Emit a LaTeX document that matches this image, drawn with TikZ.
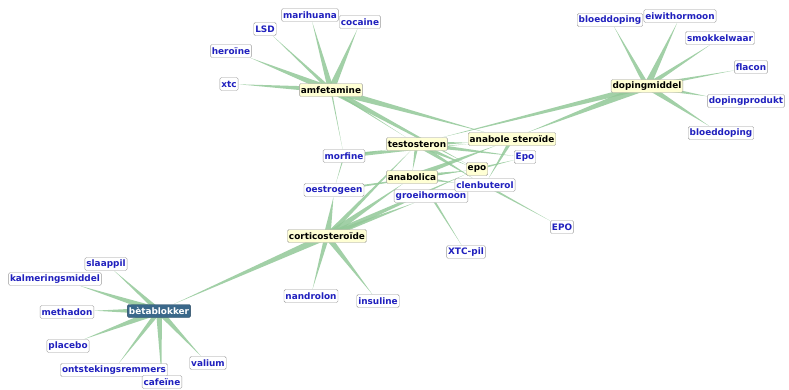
\documentclass[tikz,border=0pt]{standalone}
\usepackage{fontspec}
\setmainfont{DejaVu Sans}
\usetikzlibrary{calc,backgrounds}
\definecolor{edgegreen}{RGB}{146,200,152}
\definecolor{hubfill}{RGB}{255,255,212}
\definecolor{leafblue}{RGB}{32,32,190}
\definecolor{betafill}{RGB}{58,104,138}

\begin{document}
\begin{tikzpicture}[x=1pt,y=-1pt,
  term/.style={draw=gray!80,rounded corners=1.5pt,inner sep=1.5pt,minimum height=13pt,font=\fontsize{8.9}{9}\selectfont\bfseries},
  hub/.style={term,fill=hubfill,text=black},
  leaf/.style={term,fill=white,text=leafblue},
  focus/.style={term,fill=betafill,draw=betafill!70!black,text=white},
  edge/.style={fill=edgegreen,opacity=0.85}]
\useasboundingbox (0,0) rectangle (789,389);

% amfetamine cluster
\node[leaf] (mari) at (310,15) {marihuana};
\node[leaf] (coca) at (360,22) {cocaine};
\node[leaf] (lsd) at (265,29) {LSD};
\node[leaf] (hero) at (231,51) {heroïne};
\node[leaf] (xtc) at (229,84) {xtc};
\node[hub] (amf) at (331,90) {amfetamine};

% dopingmiddel cluster
\node[leaf] (bloedA) at (610,20) {bloeddoping};
\node[leaf] (eiwit) at (680,16) {eiwithormoon};
\node[leaf] (smok) at (720,38) {smokkelwaar};
\node[leaf] (flac) at (751,67) {flacon};
\node[hub] (dop) at (647,86) {dopingmiddel};
\node[leaf] (dprod) at (746,101) {dopingprodukt};
\node[leaf] (bloedB) at (721,133) {bloeddoping};

% middle
\node[hub] (test) at (417,144) {testosteron};
\node[hub] (anst) at (512,139) {anabole steroïde};
\node[leaf] (morf) at (344,156) {morfine};
\node[leaf] (epoB) at (525,157) {Epo};
\node[hub] (epo) at (477,169) {epo};
\node[hub] (anab) at (412,177) {anabolica};
\node[leaf] (oestr) at (334,190) {oestrogeen};
\node[leaf] (groei) at (431,196) {groeihormoon};
\node[leaf] (clen) at (485,185) {clenbuterol};
\node[hub] (cort) at (327,236) {corticosteroïde};
\node[leaf] (xtcpil) at (466,252) {XTC-pil};
\node[leaf] (epoC) at (562,227) {EPO};
\node[leaf] (nand) at (311,296) {nandrolon};
\node[leaf] (insu) at (378,301) {insuline};

% betablokker cluster
\node[leaf] (slaap) at (106,264) {slaappil};
\node[leaf] (kalm) at (55,279) {kalmeringsmiddel};
\node[focus] (beta) at (159,311) {bètablokker};
\node[leaf] (meth) at (67,312) {methadon};
\node[leaf] (plac) at (68,346) {placebo};
\node[leaf] (valium) at (208,363) {valium};
\node[leaf] (ontst) at (114,370) {ontstekingsremmers};
\node[leaf] (cafe) at (162,382) {cafeïne};

\begin{scope}[on background layer]
\foreach \a/\b/\w in {amf/mari/3, amf/coca/3.5, amf/lsd/2, amf/hero/3.5, amf/xtc/3,
    amf/morf/0.7, amf/test/1, amf/anst/3.5, amf/epo/3,
    dop/bloedA/2.5, dop/eiwit/3.5, dop/smok/2.5, dop/flac/2, dop/dprod/3, dop/bloedB/3,
    dop/anst/4, dop/test/3,
    cort/beta/3.5, cort/nand/2.5, cort/insu/3, cort/oestr/3.5, cort/anab/3.5, cort/groei/3,
    cort/test/2.5, cort/epo/3,
    beta/slaap/2.5, beta/kalm/3.5, beta/meth/3.5, beta/plac/3.5, beta/ontst/2.5, beta/cafe/3, beta/valium/3,
    test/anst/3, test/epoB/2.5, test/clen/2.5, test/epo/2.5, test/anab/2, anab/anst/3,
    anab/epo/2.5, anab/clen/2.5, morf/test/2, morf/anst/2, morf/oestr/0.7, oestr/epo/1.2,
    groei/xtcpil/1.2, clen/epoC/1.2, anst/clen/2, epo/epoB/1.2}
  \fill[edge] ($(\a)!\w pt!90:(\b)$) -- ($(\a)!\w pt!-90:(\b)$) -- (\b) -- cycle;
\end{scope}
\end{tikzpicture}
\end{document}
